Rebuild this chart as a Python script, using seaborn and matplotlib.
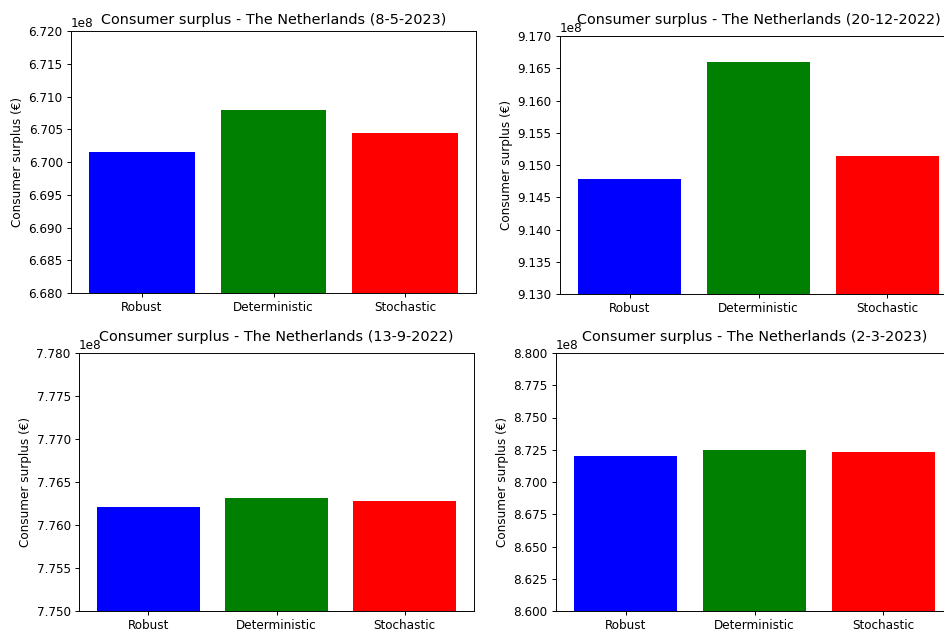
import pandas as pd
import matplotlib
matplotlib.use("Agg")
import matplotlib.pyplot as plt
import seaborn as sns

# Data (values in euro)
methods = ["Robust", "Deterministic", "Stochastic"]
colors = ["blue", "green", "red"]

dates = ["8-5-2023", "20-12-2022", "13-9-2022", "2-3-2023"]
cs_8_5_2023 = [6.7016e8, 6.7079e8, 6.7044e8]
cs_20_12_2022 = [9.1479e8, 9.1659e8, 9.1514e8]
cs_13_9_2022 = [7.7621e8, 7.7631e8, 7.7628e8]
cs_2_3_2023 = [8.7204e8, 8.7251e8, 8.7233e8]
ylims = [(6.68e8, 6.72e8), (9.13e8, 9.17e8), (7.75e8, 7.78e8), (8.60e8, 8.80e8)]

all_values = [cs_8_5_2023, cs_20_12_2022, cs_13_9_2022, cs_2_3_2023]

dpi = 86
fig = plt.figure(figsize=(944 / dpi, 632 / dpi), dpi=dpi)
W, H = 944, 632
# axes boxes in pixels: left, top, right, bottom
boxes = [(71, 31, 476, 293), (560, 36, 957, 294), (79, 353, 474, 611), (556, 353, 953, 611)]
title_pads = [6, 10, 10, 10]

for date, vals, ylim, (l, t, r, b), pad in zip(dates, all_values, ylims, boxes, title_pads):
    ax = fig.add_axes([l / W, 1 - b / H, (r - l) / W, (b - t) / H])
    df = pd.DataFrame({"Method": methods, "Surplus": vals})
    sns.barplot(data=df, x="Method", y="Surplus", hue="Method", palette=colors,
                saturation=1, legend=False, ax=ax, width=0.8)
    ax.set_xlim(-0.54, 2.54)
    ax.set_ylim(*ylim)
    ax.ticklabel_format(axis="y", style="sci", useOffset=False)
    ax.set_xlabel("")
    ax.set_ylabel("Consumer surplus (€)")
    ax.set_title(f"Consumer surplus - The Netherlands ({date})", y=1.0, pad=pad)

fig.savefig("out.png", dpi=dpi)
